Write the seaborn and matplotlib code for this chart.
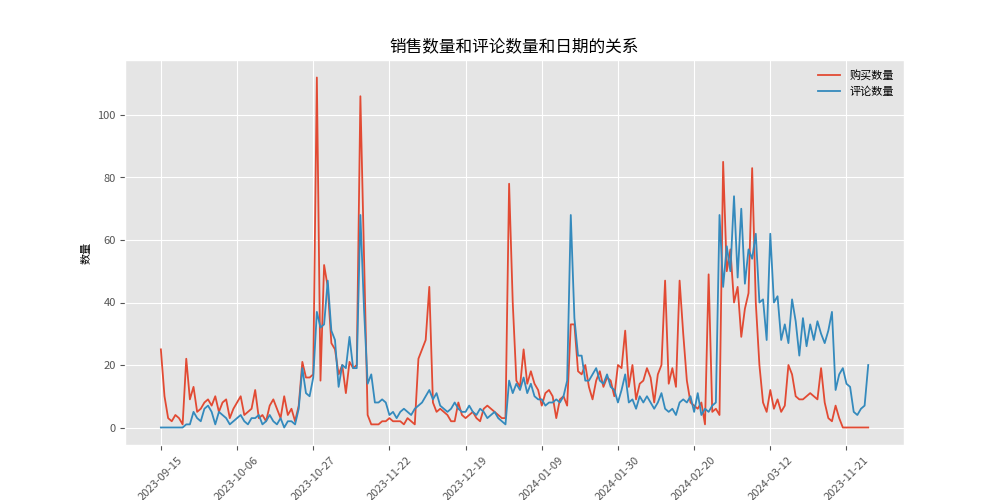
import matplotlib
matplotlib.use("Agg")
import matplotlib.pyplot as plt
import seaborn as sns
import pandas as pd
import numpy as np

# 购买数量 (sales) and 评论数量 (comments)
sales = [25, 10, 3, 2, 4, 3, 1, 22, 9, 13, 5, 6, 8, 9, 7, 10, 5, 8, 9, 3, 6,
         8, 10, 4, 5, 6, 12, 3, 4, 2, 7, 9, 6, 3, 10, 4, 6, 2, 7, 21, 16, 16,
         17, 112, 15, 52, 45, 27, 25, 17, 20, 11, 21, 19, 20, 106, 55, 4, 1, 1, 1, 2, 2,
         3, 2, 2, 2, 1, 3, 2, 1, 22, 25, 28, 45, 8, 5, 6, 5, 4, 2, 2, 8, 4,
         3, 4, 5, 3, 2, 6, 7, 6, 5, 4, 3, 3, 78, 40, 15, 13, 25, 14, 18, 14, 12,
         7, 11, 12, 10, 3, 9, 10, 7, 33, 33, 18, 17, 20, 13, 9, 15, 18, 13, 16, 15, 10,
         20, 19, 31, 13, 20, 9, 14, 15, 19, 16, 8, 17, 20, 47, 14, 19, 13, 47, 30, 15, 8,
         7, 6, 8, 1, 49, 5, 6, 4, 85, 50, 57, 40, 45, 29, 38, 43, 83, 40, 20, 8, 5,
         12, 6, 9, 5, 7, 20, 17, 10, 9, 9, 10, 11, 10, 9, 19, 8, 3, 2, 7, 3, 0,
         0, 0, 0, 0, 0, 0, 0]
comments = [0, 0, 0, 0, 0, 0, 0, 1, 1, 5, 3, 2, 6, 7, 5, 1, 5, 4, 3, 1, 2,
            3, 4, 2, 1, 3, 3, 4, 1, 2, 4, 2, 1, 3, 0, 2, 2, 1, 6, 19, 11, 10,
            16, 37, 32, 33, 47, 31, 28, 13, 20, 19, 29, 19, 19, 68, 38, 14, 17, 8, 8, 9, 8,
            4, 5, 3, 5, 6, 5, 4, 6, 7, 8, 10, 12, 9, 11, 7, 6, 5, 6, 8, 6, 5,
            5, 7, 5, 4, 6, 5, 3, 4, 5, 3, 2, 1, 15, 11, 14, 12, 16, 11, 14, 10, 9,
            9, 7, 8, 8, 9, 8, 10, 15, 68, 35, 23, 23, 15, 15, 17, 19, 15, 14, 17, 13, 12,
            8, 12, 17, 8, 9, 6, 10, 8, 10, 8, 6, 8, 11, 6, 5, 6, 4, 8, 9, 8, 10,
            5, 11, 4, 6, 5, 7, 8, 68, 45, 58, 50, 74, 48, 70, 46, 57, 54, 62, 40, 41, 28,
            62, 40, 42, 28, 33, 27, 41, 34, 23, 35, 26, 33, 28, 34, 30, 27, 31, 37, 12, 17, 19,
            14, 13, 5, 4, 6, 7, 20]
tick_labels = ["2023-09-15", "2023-10-06", "2023-10-27", "2023-11-22", "2023-12-19",
               "2024-01-09", "2024-01-30", "2024-02-20", "2024-03-12", "2023-11-21"]

plt.style.use("ggplot")
plt.rcParams['font.family'] = ['Noto Sans CJK SC', 'DejaVu Sans']
plt.rcParams['axes.unicode_minus'] = False

n = min(len(sales), len(comments))
df = pd.DataFrame({"idx": np.arange(n), "购买数量": sales[:n], "评论数量": comments[:n]})

fig, ax = plt.subplots(figsize=(10.04, 5), dpi=100)
fig.subplots_adjust(left=0.125, right=0.9, top=0.88, bottom=0.11)
sns.lineplot(data=df, x="idx", y="购买数量", color="#E24A33", label="购买数量", ax=ax, linewidth=1.3)
sns.lineplot(data=df, x="idx", y="评论数量", color="#348ABD", label="评论数量", ax=ax, linewidth=1.3)

ax.set_xticks(np.arange(0, 21 * len(tick_labels), 21))
ax.set_xticklabels(tick_labels, rotation=45, fontsize=8)
ax.tick_params(axis='y', labelsize=8)
ax.set_title("销售数量和评论数量和日期的关系", fontsize=12, color="black")
ax.set_xlabel("日期", fontsize=8, color="black")
ax.set_ylabel("数量", fontsize=8, color="black")
leg = ax.legend(loc="upper right", fontsize=8, frameon=False)
fig.savefig("out.png", dpi=100)
